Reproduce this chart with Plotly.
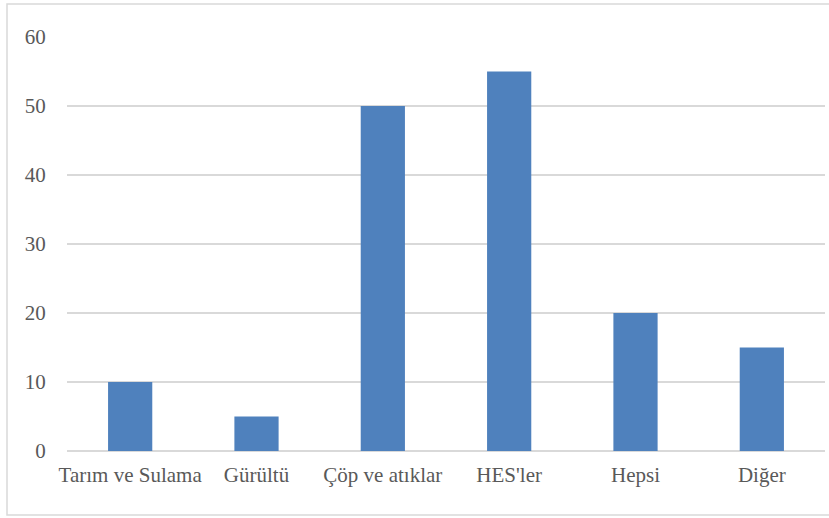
import plotly.graph_objects as go

categories = ["Tarım ve Sulama", "Gürültü", "Çöp ve atıklar", "HES'ler", "Hepsi", "Diğer"]
values = [10, 5, 50, 55, 20, 15]
y_ticks = [0, 10, 20, 30, 40, 50, 60]

W, H = 829, 518
ml, mr, mt, mb = 67, 4, 37, 67
pw, ph = W - ml - mr, H - mt - mb

def px_to_paper_x(x):
    return (x - ml) / pw

def px_to_paper_y(y):
    return (H - mb - y) / ph

fig = go.Figure(go.Bar(
    x=categories, y=values,
    marker=dict(color="#4F81BD", line=dict(width=0)),
    hoverinfo="skip",
))

fig.update_layout(
    width=W, height=H,
    margin=dict(l=ml, r=mr, t=mt, b=mb),
    paper_bgcolor="white", plot_bgcolor="white",
    bargap=0.65,
    showlegend=False,
    font=dict(family="Liberation Serif, Times New Roman, serif", size=21, color="#595959"),
    xaxis=dict(
        showgrid=False, showline=False, zeroline=False,
        ticks="outside", ticklen=5, tickcolor="rgba(0,0,0,0)",
        tickfont=dict(size=21, color="#595959"),
    ),
    yaxis=dict(
        range=[0, 60], tickvals=y_ticks,
        showgrid=True, gridcolor="#D9D9D9", gridwidth=1.5,
        zeroline=True, zerolinecolor="#D9D9D9", zerolinewidth=1.5,
        showline=False,
        ticks="outside", ticklen=16, tickcolor="rgba(0,0,0,0)",
        tickfont=dict(size=21, color="#595959"),
    ),
    shapes=[dict(
        type="rect", xref="paper", yref="paper",
        x0=px_to_paper_x(7), x1=px_to_paper_x(840),
        y0=px_to_paper_y(515), y1=px_to_paper_y(4),
        line=dict(color="#D9D9D9", width=1.5), fillcolor="rgba(0,0,0,0)",
        layer="below",
    )],
)

fig.write_html(
    "out.html",
    config={"displayModeBar": False, "staticPlot": True},
    post_script="document.body.style.margin='0';document.body.style.overflow='hidden';",
)
